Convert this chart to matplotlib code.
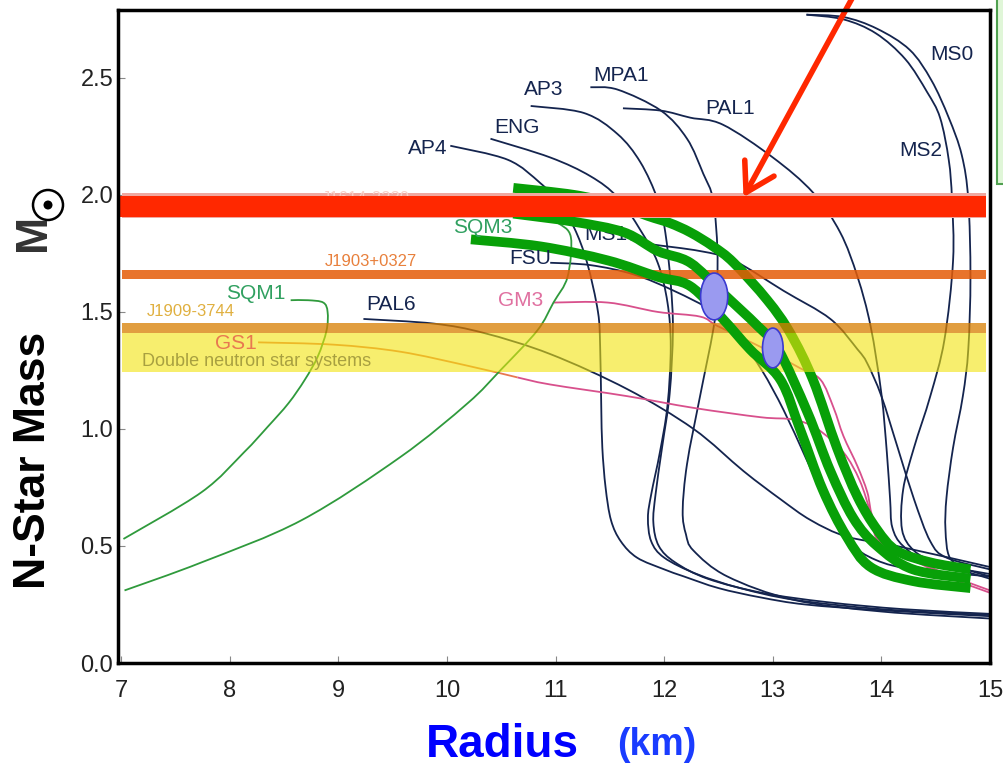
#!/usr/bin/env python3
import matplotlib
matplotlib.use('Agg')
import matplotlib.pyplot as plt
from matplotlib.patches import Ellipse, Rectangle, PathPatch
from matplotlib.path import Path

plt.rcParams['font.family'] = ['Liberation Sans', 'DejaVu Sans']

# Mass-radius relations: radius in km, mass in solar masses.
ap4_r = [10.03, 10.56, 10.86, 11.02, 11.17, 11.29, 11.39, 11.41, 11.42, 11.43, 11.46, 11.51, 11.60, 11.75, 12.00, 12.18, 12.50, 12.89, 13.30, 14.00, 15.00]
ap4_m = [2.21, 2.15, 2.05, 1.97, 1.86, 1.71, 1.50, 1.35, 1.10, 0.92, 0.75, 0.61, 0.52, 0.45, 0.40, 0.37, 0.32, 0.28, 0.25, 0.225, 0.20]
eng_r = [10.40, 10.95, 11.32, 11.57, 11.78, 11.94, 12.03, 12.06, 12.03, 11.96, 11.88, 11.85, 11.88, 12.00, 12.30, 12.70, 13.20, 14.00, 15.00]
eng_m = [2.24, 2.16, 2.08, 1.99, 1.85, 1.71, 1.54, 1.35, 1.10, 0.90, 0.72, 0.62, 0.52, 0.45, 0.38, 0.32, 0.27, 0.23, 0.205]
ap3_r = [10.77, 11.26, 11.57, 11.78, 11.94, 12.01, 12.06, 12.08, 12.05, 11.98, 11.92, 11.90, 11.95, 12.10, 12.40, 12.90, 13.50, 14.20, 15.00]
ap3_m = [2.38, 2.35, 2.26, 2.14, 1.98, 1.84, 1.62, 1.42, 1.15, 0.92, 0.72, 0.60, 0.50, 0.43, 0.36, 0.30, 0.26, 0.23, 0.21]
mpa1_r = [11.32, 11.57, 11.97, 12.21, 12.36, 12.45, 12.49, 12.48, 12.45, 12.33, 12.21, 12.17, 12.20, 12.27, 12.58, 13.19, 14.00, 15.00]
mpa1_m = [2.46, 2.45, 2.36, 2.24, 2.09, 1.98, 1.76, 1.55, 1.42, 1.14, 0.85, 0.65, 0.55, 0.48, 0.37, 0.27, 0.22, 0.19]
pal1_r = [11.62, 11.97, 12.24, 12.54, 13.00, 13.37, 13.62, 13.78, 13.90, 14.00, 14.05, 14.08, 14.10, 14.20, 14.45, 15.00]
pal1_m = [2.37, 2.36, 2.33, 2.30, 2.16, 2.01, 1.84, 1.65, 1.44, 1.15, 0.90, 0.70, 0.58, 0.50, 0.43, 0.38]
ms1_r = [11.69, 11.87, 12.33, 12.64, 13.10, 13.53, 13.78, 13.87, 14.00, 14.15, 14.30, 14.45, 14.60, 15.00]
ms1_m = [1.81, 1.79, 1.76, 1.72, 1.59, 1.47, 1.34, 1.28, 1.14, 0.92, 0.70, 0.52, 0.45, 0.40]
ms0_r = [13.31, 13.65, 13.96, 14.26, 14.46, 14.62, 14.74, 14.80, 14.82, 14.80, 14.75, 14.66, 14.60, 14.59, 14.63, 14.79, 15.00]
ms0_m = [2.77, 2.76, 2.71, 2.62, 2.49, 2.33, 2.17, 1.98, 1.65, 1.34, 1.14, 0.92, 0.71, 0.57, 0.45, 0.40, 0.37]
ms2_r = [13.31, 13.65, 13.95, 14.22, 14.42, 14.54, 14.62, 14.65, 14.66, 14.58, 14.45, 14.30, 14.20, 14.19, 14.30, 14.51, 15.00]
ms2_m = [2.77, 2.75, 2.69, 2.58, 2.44, 2.33, 2.15, 1.98, 1.72, 1.38, 1.14, 0.92, 0.74, 0.57, 0.48, 0.43, 0.36]
fsu_r = [10.95, 11.32, 11.72, 12.09, 12.45, 12.70, 12.90, 13.10, 13.30, 13.50, 13.70, 13.95, 14.30, 15.00]
fsu_m = [1.71, 1.70, 1.66, 1.59, 1.50, 1.38, 1.25, 1.08, 0.88, 0.68, 0.52, 0.44, 0.40, 0.37]
pal6_r = [9.23, 9.88, 10.34, 10.95, 11.66, 12.27, 12.73, 13.07, 13.35, 13.68, 14.14, 15.00]
pal6_m = [1.47, 1.45, 1.41, 1.32, 1.17, 1.00, 0.82, 0.70, 0.61, 0.54, 0.50, 0.41]
gm3_r = [10.98, 11.48, 11.94, 12.33, 12.49, 12.89, 13.25, 13.44, 13.56, 13.65, 13.78, 13.87, 13.93, 14.11, 14.26, 14.60, 15.00]
gm3_m = [1.54, 1.54, 1.50, 1.48, 1.44, 1.35, 1.26, 1.21, 1.09, 0.97, 0.84, 0.73, 0.61, 0.50, 0.45, 0.38, 0.31]
gs1_r = [8.26, 8.96, 9.57, 10.19, 10.65, 10.95, 11.66, 12.27, 12.89, 13.19, 13.41, 13.65, 13.80, 13.90, 13.96, 14.17, 14.60, 15.00]
gs1_m = [1.37, 1.36, 1.33, 1.27, 1.22, 1.19, 1.14, 1.09, 1.05, 1.04, 1.00, 0.90, 0.78, 0.64, 0.53, 0.47, 0.37, 0.30]
sqm1_r = [7.02, 7.74, 8.13, 8.35, 8.54, 8.69, 8.81, 8.89, 8.90, 8.86, 8.72, 8.56]
sqm1_m = [0.53, 0.73, 0.90, 1.01, 1.11, 1.21, 1.31, 1.42, 1.50, 1.54, 1.55, 1.55]
sqm3_r = [7.03, 7.74, 8.66, 9.57, 10.19, 10.49, 10.83, 10.98, 11.11, 11.14, 11.02, 10.90]
sqm3_m = [0.31, 0.43, 0.61, 0.88, 1.11, 1.25, 1.42, 1.54, 1.65, 1.82, 1.88, 1.90]

# the three highlighted (thick green) relations
gtop_r = [10.61, 11.17, 11.55, 11.85, 12.05, 12.24, 12.45, 12.64, 12.95, 13.16, 13.37, 13.59, 13.78, 13.96, 14.14, 14.45, 14.82]
gtop_m = [2.03, 2.00, 1.96, 1.91, 1.88, 1.84, 1.78, 1.71, 1.55, 1.41, 1.21, 0.92, 0.71, 0.57, 0.48, 0.43, 0.40]
gmid_r = [10.61, 11.17, 11.63, 11.94, 12.24, 12.54, 12.86, 13.05, 13.32, 13.53, 13.74, 13.96, 14.29, 14.82]
gmid_m = [1.92, 1.885, 1.84, 1.76, 1.71, 1.58, 1.44, 1.34, 1.07, 0.82, 0.62, 0.50, 0.40, 0.36]
gbot_r = [10.22, 10.86, 11.48, 11.94, 12.24, 12.54, 12.79, 13.07, 13.25, 13.46, 13.68, 13.90, 14.29, 14.82]
gbot_m = [1.81, 1.78, 1.72, 1.65, 1.61, 1.47, 1.34, 1.21, 1.00, 0.74, 0.54, 0.41, 0.35, 0.32]

# measured pulsar masses (bands): low, high
j1614 = (1.90, 2.01)
red_band = (1.906, 1.995)
j1903 = (1.64, 1.68)
j1909 = (1.41, 1.453)
dns = (1.244, 1.41)

# radius constraints (ellipses): center R, center M, width, height
blobs_r = [12.46, 13.00]
blobs_m = [1.566, 1.346]
blobs_w = [0.25, 0.19]
blobs_h = [0.20, 0.17]

navy = '#14244e'
pink = '#d8508c'
sqm_green = '#2f9a3c'
thick_green = '#08a008'


# Draw a curve through the read-off points as a smooth Bezier path.
def curve(ax, r, m, color, lw, z):
    pts = list(zip(r, m))
    verts = [pts[0]]
    codes = [Path.MOVETO]
    for i in range(len(pts) - 1):
        p0 = pts[i - 1] if i > 0 else pts[i]
        p1 = pts[i]
        p2 = pts[i + 1]
        p3 = pts[i + 2] if i + 2 < len(pts) else pts[i + 1]
        c1 = (p1[0] + (p2[0] - p0[0]) / 6, p1[1] + (p2[1] - p0[1]) / 6)
        c2 = (p2[0] - (p3[0] - p1[0]) / 6, p2[1] - (p3[1] - p1[1]) / 6)
        verts += [c1, c2, p2]
        codes += [Path.CURVE4] * 3
    ax.add_patch(PathPatch(Path(verts, codes), facecolor='none', edgecolor=color,
                           lw=lw, capstyle='butt', zorder=z))


fig = plt.figure(figsize=(10.04, 7.67), dpi=100)
ax = fig.add_axes([118 / 1004, 104 / 767, 872 / 1004, 653 / 767])
ax.set_xlim(6.97, 15.0)
ax.set_ylim(0, 2.79)

thin = [(ap4_r, ap4_m), (eng_r, eng_m), (ap3_r, ap3_m), (mpa1_r, mpa1_m),
        (pal1_r, pal1_m), (ms1_r, ms1_m), (ms0_r, ms0_m), (ms2_r, ms2_m),
        (fsu_r, fsu_m), (pal6_r, pal6_m)]
for r, m in thin:
    curve(ax, r, m, navy, 1.3, 2)
curve(ax, gm3_r, gm3_m, pink, 1.3, 2)
curve(ax, gs1_r[:5], gs1_m[:5], '#e87850', 1.3, 2)
curve(ax, gs1_r[4:], gs1_m[4:], pink, 1.3, 2)
curve(ax, sqm1_r, sqm1_m, sqm_green, 1.3, 2)
curve(ax, sqm3_r, sqm3_m, sqm_green, 1.3, 2)

# top green one sits under the pulsar bands
curve(ax, gtop_r, gtop_m, thick_green, 7, 2.5)

# pulsar bands, semi transparent
ax.axhspan(*dns, xmin=0.005, xmax=0.995, color='#f2e40d', alpha=0.6, lw=0, zorder=3)
ax.axhspan(*j1909, xmin=0.005, xmax=0.995, color='#d77e00', alpha=0.75, lw=0, zorder=3)
ax.axhspan(*j1903, xmin=0.005, xmax=0.995, color='#e45c07', alpha=0.85, lw=0, zorder=3)
ax.axhspan(*j1614, xmin=0.005, xmax=0.995, color='#f0a8a0', lw=0, zorder=3)
ax.text(9.25, 1.985, 'J1614-2230', color='#f8d0c8', fontsize=12, ha='center', va='center', zorder=3.1)

curve(ax, gmid_r, gmid_m, thick_green, 7, 4)
curve(ax, gbot_r, gbot_m, thick_green, 7, 4)

for r, m, w, h in zip(blobs_r, blobs_m, blobs_w, blobs_h):
    ax.add_patch(Ellipse((r, m), w, h, facecolor='#9a9af0', edgecolor='#3a3ad0', lw=1.2, zorder=5))

ax.axhspan(*red_band, xmin=0, xmax=0.995, color='#ff2800', lw=0, zorder=6)

# curve labels
ax.text(10.0, 2.20, 'AP4', color=navy, fontsize=15, ha='right', va='center', zorder=7)
ax.text(10.64, 2.29, 'ENG', color=navy, fontsize=15, ha='center', va='center', zorder=7)
ax.text(10.89, 2.45, 'AP3', color=navy, fontsize=15, ha='center', va='center', zorder=7)
ax.text(11.60, 2.51, 'MPA1', color=navy, fontsize=15, ha='center', va='center', zorder=7)
ax.text(12.61, 2.37, 'PAL1', color=navy, fontsize=15, ha='center', va='center', zorder=7)
ax.text(14.65, 2.60, 'MS0', color=navy, fontsize=15, ha='center', va='center', zorder=7)
ax.text(14.36, 2.19, 'MS2', color=navy, fontsize=15, ha='center', va='center', zorder=7)
ax.text(11.46, 1.83, 'MS1', color=navy, fontsize=15, ha='center', va='center', zorder=3.5)
ax.text(10.77, 1.73, 'FSU', color=navy, fontsize=15, ha='center', va='center', zorder=7)
ax.text(9.48, 1.53, 'PAL6', color=navy, fontsize=15, ha='center', va='center', zorder=7)
ax.text(8.24, 1.58, 'SQM1', color='#30a060', fontsize=15, ha='center', va='center', zorder=7)
ax.text(10.33, 1.86, 'SQM3', color='#30a060', fontsize=15, ha='center', va='center', zorder=7)
ax.text(10.68, 1.55, 'GM3', color='#e070a0', fontsize=15, ha='center', va='center', zorder=7)
ax.text(8.06, 1.365, 'GS1', color='#e87850', fontsize=15, ha='center', va='center', zorder=7)
ax.text(9.30, 1.715, 'J1903+0327', color='#e8803c', fontsize=12, ha='center', va='center', zorder=7)
ax.text(7.64, 1.50, 'J1909-3744', color='#e0b040', fontsize=12, ha='center', va='center', zorder=7)
ax.text(8.25, 1.29, 'Double neutron star systems', color='#a8a040', fontsize=13, ha='center', va='center', zorder=7)

# red arrow coming in from above the frame
ax.annotate('', xy=(12.73, 1.99), xytext=(13.73, 2.84),
            arrowprops=dict(arrowstyle='->,head_length=1.0,head_width=0.6', color='#ff2800',
                            lw=4, mutation_scale=20, shrinkA=0, shrinkB=0),
            annotation_clip=False, zorder=8)

ax.set_xticks(range(7, 16))
ax.set_yticks([0, 0.5, 1.0, 1.5, 2.0, 2.5])
ax.set_yticklabels(['0.0', '0.5', '1.0', '1.5', '2.0', '2.5'])
ax.tick_params(direction='in', length=5, color='#888888', labelsize=17, labelcolor='#222222')
ax.tick_params(axis='x', pad=12)
for s in ax.spines.values():
    s.set_linewidth(2.5)
    s.set_color('black')
    s.set_zorder(9)

# axis titles
fig.text(34 / 1004, 1 - 460 / 767, 'N-Star Mass', rotation=90, fontsize=32, fontweight='bold',
         ha='center', va='center')
fig.text(34 / 1004, 1 - 232 / 767, 'M', rotation=90, fontsize=32, fontweight='bold', color='#333333',
         ha='center', va='center')
fig.patches.append(Ellipse((48 / 1004, 1 - 205 / 767), 30 / 1004, 30 / 767, transform=fig.transFigure,
                           facecolor='white', edgecolor='black', lw=1.8))
fig.patches.append(Ellipse((48 / 1004, 1 - 205 / 767), 9 / 1004, 9 / 767, transform=fig.transFigure,
                           facecolor='black', edgecolor='none'))
fig.text(502 / 1004, 1 - 745 / 767, 'Radius', fontsize=33, fontweight='bold', color='#0000ff',
         ha='center', va='center')
fig.text(657 / 1004, 1 - 745 / 767, '(km)', fontsize=27, fontweight='bold', color='#1a3cff',
         ha='center', va='center')

# green box peeking in at the right edge
fig.patches.append(Rectangle((997 / 1004, 1 - 184 / 767), 20 / 1004, 190 / 767, transform=fig.transFigure,
                             facecolor='#e0f6d8', edgecolor='#50a050', lw=1.5))

plt.savefig('out.png', dpi=100)
